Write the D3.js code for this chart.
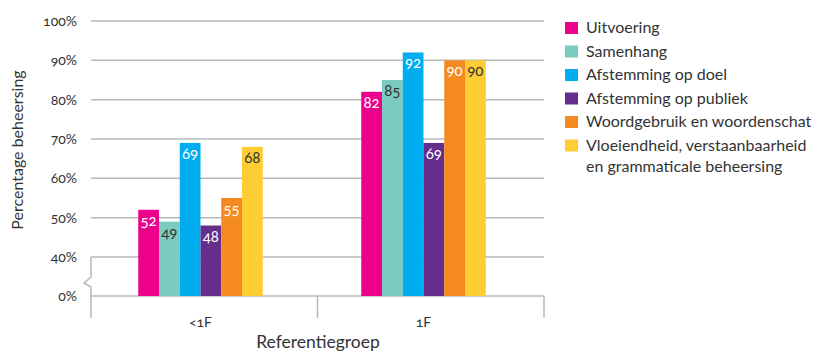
<!DOCTYPE html>
<html>
<head>
<meta charset="utf-8">
<script src="https://cdn.jsdelivr.net/npm/d3@7"></script>
<style>
  body { margin: 0; background: #fff; }
  svg text { font-family: Lato, "Open Sans", sans-serif; font-variant-numeric: oldstyle-nums; fill: #333; }
</style>
</head>
<body>
<div id="chart"></div>
<script>
// data
var groups = ["<1F", "1F"];
var series = ["Uitvoering", "Samenhang", "Afstemming op doel", "Afstemming op publiek",
              "Woordgebruik en woordenschat", "Vloeiendheid, verstaanbaarheid en grammaticale beheersing"];
var legendLines = [["Uitvoering"], ["Samenhang"], ["Afstemming op doel"], ["Afstemming op publiek"],
                   ["Woordgebruik en woordenschat"], ["Vloeiendheid, verstaanbaarheid", "en grammaticale beheersing"]];
var valuesLow = [52, 49, 69, 48, 55, 68];   // <1F
var valuesHigh = [82, 85, 92, 69, 90, 90];  // 1F
var yTicks = [0, 40, 50, 60, 70, 80, 90, 100];
var colors = ["#ec008c", "#7accc0", "#00aeef", "#662d8c", "#f58a21", "#fecc33"];
var labelColors = ["#fff", "#333", "#fff", "#fff", "#fff", "#333"];

var width = 813, height = 351;
var plotLeft = 91, plotRight = 544, plotTop = 21, plotBottom = 296;

var svg = d3.select("#chart").append("svg")
    .attr("width", width)
    .attr("height", height);

// broken axis: 0..40 squeezed, 40..100 linear
var y = d3.scaleLinear().domain([0, 40, 100]).range([plotBottom, 257, plotTop]);

// frame scale for axis ticks, bar scale for the groups
var xFrame = d3.scaleBand().domain(groups).range([plotLeft, plotRight]);
var xGroup = d3.scaleBand().domain(groups).range([89, 535]);
var barsWidth = 124.5;
var xSeries = d3.scaleBand().domain(d3.range(series.length)).range([0, barsWidth]);

// gridlines
svg.append("g").selectAll("line")
    .data(yTicks)
    .enter().append("line")
    .attr("x1", plotLeft).attr("x2", plotRight)
    .attr("y1", function(d) { return y(d); })
    .attr("y2", function(d) { return y(d); })
    .attr("stroke", "#b8b8b8")
    .attr("stroke-width", 1.5);

// y tick labels
svg.append("g").selectAll("text")
    .data(yTicks)
    .enter().append("text")
    .attr("x", 77)
    .attr("y", function(d) { return y(d); })
    .attr("dy", "0.35em")
    .attr("text-anchor", "end")
    .style("font-size", "14px")
    .text(function(d) { return d + "%"; });

// y axis line with break symbol
var yb = y(40);
svg.append("path")
    .attr("d", "M" + plotLeft + "," + yb + "V" + (yb + 20) + "L" + (plotLeft - 7) + "," + (yb + 26) +
               "L" + plotLeft + "," + (yb + 30) + "V" + (plotBottom + 22))
    .attr("fill", "none")
    .attr("stroke", "#b8b8b8")
    .attr("stroke-width", 1.5);

// x axis ticks at group boundaries
var bounds = [plotLeft, xFrame("1F"), plotRight];
svg.append("g").selectAll("line")
    .data(bounds.slice(1))
    .enter().append("line")
    .attr("x1", function(d) { return d; })
    .attr("x2", function(d) { return d; })
    .attr("y1", plotBottom)
    .attr("y2", plotBottom + 22)
    .attr("stroke", "#b8b8b8")
    .attr("stroke-width", 1.5);

var rows = [];
groups.forEach(function(g, gi) {
    var vals = gi === 0 ? valuesLow : valuesHigh;
    vals.forEach(function(v, i) { rows.push({group: g, i: i, value: v}); });
});

function barX(d) {
    return xGroup(d.group) + (xGroup.bandwidth() - barsWidth) / 2 + xSeries(d.i);
}

svg.append("g").selectAll("rect")
    .data(rows)
    .enter().append("rect")
    .attr("x", barX)
    .attr("y", function(d) { return y(d.value); })
    .attr("width", xSeries.bandwidth())
    .attr("height", function(d) { return plotBottom - y(d.value); })
    .attr("fill", function(d) { return colors[d.i]; });

svg.append("g").selectAll("text")
    .data(rows)
    .enter().append("text")
    .attr("x", function(d) { return barX(d) + xSeries.bandwidth() / 2; })
    .attr("y", function(d) { return y(d.value) + 16; })
    .attr("text-anchor", "middle")
    .style("font-size", "15px")
    .style("fill", function(d) { return labelColors[d.i]; })
    .text(function(d) { return d.value; });

// category labels
svg.append("g").selectAll("text")
    .data(groups)
    .enter().append("text")
    .attr("x", function(d) { return xGroup(d) + xGroup.bandwidth() / 2; })
    .attr("y", 327)
    .attr("text-anchor", "middle")
    .style("font-size", "14px")
    .text(function(d) { return d; });

// axis titles
svg.append("text")
    .attr("x", 318).attr("y", 348)
    .attr("text-anchor", "middle")
    .style("font-size", "17.5px")
    .text("Referentiegroep");

svg.append("text")
    .attr("transform", "translate(23,150) rotate(-90)")
    .attr("text-anchor", "middle")
    .style("font-size", "16px")
    .text("Percentage beheersing");

// legend
var legend = svg.append("g").attr("transform", "translate(565,22)");
var item = legend.selectAll("g")
    .data(legendLines)
    .enter().append("g")
    .attr("transform", function(d, i) { return "translate(0," + (i * 23.5) + ")"; });
item.append("rect")
    .attr("width", 13).attr("height", 12)
    .attr("fill", function(d, i) { return colors[i]; });
item.selectAll("text")
    .data(function(d) { return d; })
    .enter().append("text")
    .attr("x", 21)
    .attr("y", function(d, j) { return 11 + j * 21.5; })
    .style("font-size", "16px")
    .text(function(d) { return d; });
</script>
</body>
</html>
